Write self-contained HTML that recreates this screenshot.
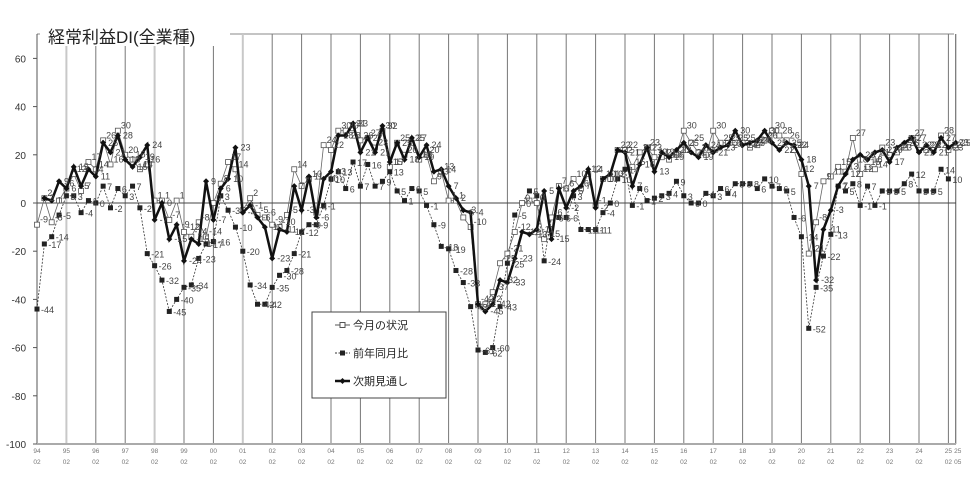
<!DOCTYPE html>
<html><head><meta charset="utf-8">
<style>
html,body{margin:0;padding:0;background:#fff;}
svg{display:block;font-family:"Liberation Sans","Noto Sans CJK JP",sans-serif;}
</style></head>
<body>
<svg id="chart" width="970" height="495" viewBox="0 0 970 495">
<rect x="0" y="0" width="970" height="495" fill="#fff"/>
<g id="grid"></g>
<g id="series"></g>
<g id="labels"></g>
<rect x="40" y="24" width="190" height="22" fill="#fff"/>
<text x="48" y="43" font-size="17" fill="#222">経常利益DI(全業種)</text>
<g>
<rect x="312" y="312" width="134" height="86" fill="#fff" stroke="#444" stroke-width="1"/>
<g>
<line x1="335" y1="325" x2="350" y2="325" stroke="#555" stroke-width="1"/>
<rect x="340" y="322.5" width="5" height="5" fill="#fff" stroke="#555" stroke-width="1"/>
<text x="353" y="329" font-size="11" fill="#222">今月の状況</text></g>
<g>
<line x1="335" y1="353" x2="350" y2="353" stroke="#333" stroke-width="1" stroke-dasharray="2,1.5"/>
<rect x="340" y="350.5" width="5" height="5" fill="#222"/>
<text x="353" y="357" font-size="11" fill="#222">前年同月比</text></g>
<g>
<line x1="335" y1="381" x2="350" y2="381" stroke="#111" stroke-width="2.5"/>
<path d="M342.5 378 L345.5 381 L342.5 384 L339.5 381Z" fill="#111"/>
<text x="353" y="385" font-size="11" fill="#222">次期見通し</text></g>
</g>
</svg>
<script>
const yearLabels=["94","95","96","97","98","99","00","01","02","03","04","05","06","07","08","09","10","11","12","13","14","15","16","17","18","19","20","21","22","23","24","25"];
const yTicks=[60,40,20,0,-20,-40,-60,-80,-100];
const seriesCurrent=[-9,2,-8,1,6,12,5,17,14,26,16,30,20,18,14,16,
1,1,-7,1,-12,-14,-8,-14,0,8,17,14,-3,2,-5,-6,
-9,-10,-5,14,7,10,-4,24,22,30,30,31,26,27,23,30,
15,25,20,25,18,20,9,13,1,1,-6,-10,-42,-42,-37,-25,
-21,-12,0,1,0,-15,-6,7,6,10,6,12,-1,10,10,22,
22,15,21,23,19,19,18,20,30,25,21,20,30,25,25,25,
25,23,24,26,30,28,26,22,12,-21,-8,9,11,15,13,27,
12,15,14,23,20,21,24,27,22,22,22,28,22,23];
const seriesYoY=[-44,-17,-14,-5,3,3,-4,1,0,7,-2,6,3,7,-2,-21,
-26,-32,-45,-40,-35,-34,-23,-17,-16,3,-3,-10,-20,-34,-42,-42,
-35,-30,-28,-21,-12,-9,-9,-1,10,13,6,17,7,16,7,9,
13,5,1,6,5,-1,-9,-18,-19,-28,-33,-43,-61,-62,-60,-43,
-25,-5,0,5,3,-24,-6,-6,-6,3,-11,-11,-11,-4,0,10,
14,-1,6,1,2,3,4,9,3,0,0,4,3,6,4,8,
8,8,6,10,7,6,5,-6,-14,-52,-35,-22,-13,7,5,8,
-1,7,-1,5,5,5,8,12,5,5,5,14,10,null];
const seriesOutlook=[null,2,1,9,6,15,7,14,11,25,21,28,18,15,19,24,
-7,0,-15,-9,-24,-15,-17,9,-7,6,10,23,-4,-1,-6,-10,
-23,-11,-12,7,-3,11,-6,10,13,28,28,33,21,27,21,32,
17,25,18,27,19,24,13,14,7,2,-3,-4,-42,-45,-42,-32,
-33,-23,-12,-13,-11,5,-15,6,-2,5,7,14,-2,10,12,22,
21,7,16,23,13,21,19,22,25,21,19,24,21,23,24,30,
24,25,26,30,25,22,25,24,18,7,-32,-11,-3,7,12,18,
20,18,21,22,17,23,25,27,21,24,21,27,23,25];

const NS="http://www.w3.org/2000/svg";
const X0=37, QW=7.35, Y0=203, UY=2.41, TOP=34, BOT=444;
function xq(i){return X0+QW*i;}
function yv(v){return Y0-v*UY;}
function mk(tag,attrs,parent){const e=document.createElementNS(NS,tag);for(const k in attrs)e.setAttribute(k,attrs[k]);parent.appendChild(e);return e;}
const grid=document.getElementById('grid');
const ser=document.getElementById('series');
const lab=document.getElementById('labels');

// frame
let fr=mk('line',{x1:X0,y1:TOP,x2:954,y2:TOP,stroke:'#888','stroke-width':1},grid);


// year gridlines + labels
yearLabels.forEach((yl,k)=>{
  const x=X0+29.4*k;
  const light=(k===1||k===4||k===7);
  const l=mk('line',{x1:x,y1:TOP,x2:x,y2:BOT,stroke:light?'#c8c8c8':'#777','stroke-width':light?2:1},grid);
  
  
  const t=mk('text',{x:x,y:453,'font-size':6.5,fill:'#777','text-anchor':'middle'},grid);
  t.textContent=yl;
  
  
  const t2=mk('text',{x:x,y:464,'font-size':6.5,fill:'#777','text-anchor':'middle'},grid);
  t2.textContent='02';
  
  
});
{const x=xq(125);
 const l=mk('line',{x1:x,y1:TOP,x2:x,y2:BOT,stroke:'#555','stroke-width':1},grid);
 
 
 const t=mk('text',{x:x+2,y:453,'font-size':6.5,fill:'#777','text-anchor':'middle'},grid);t.textContent='25';
 
 
 const t2=mk('text',{x:x+2,y:464,'font-size':6.5,fill:'#777','text-anchor':'middle'},grid);t2.textContent='05';
 
 }
// axes
let ax=mk('line',{x1:X0,y1:TOP,x2:X0,y2:BOT,stroke:'#555','stroke-width':1},grid);


let bx=mk('line',{x1:X0,y1:BOT,x2:956,y2:BOT,stroke:'#aaa','stroke-width':2},grid);


let zl=mk('line',{x1:X0,y1:Y0,x2:956,y2:Y0,stroke:'#444','stroke-width':1},grid);


yTicks.forEach(v=>{
  const y=yv(v);
  const tk=mk('line',{x1:X0-4,y1:y,x2:X0,y2:y,stroke:'#555','stroke-width':1},grid);
  
  
  const t=mk('text',{x:26,y:y+4,'font-size':10,fill:'#333','text-anchor':'end'},grid);
  t.textContent=v;
  
  
});

function drawSeries(arr,name,style,marker,labOff){
  let d='';let pen=false;
  arr.forEach((v,i)=>{ if(v===null){pen=false;return;} d+=(pen?'L':'M')+xq(i).toFixed(1)+' '+yv(v).toFixed(1)+' ';pen=true;});
  const p=mk('path',Object.assign({d:d,fill:'none'},style),ser);
  
  
  arr.forEach((v,i)=>{
    if(v===null)return;
    const x=xq(i),y=yv(v);
    let m;
    if(marker==='open') m=mk('rect',{x:x-2.5,y:y-2.5,width:5,height:5,fill:'#fff',stroke:'#555','stroke-width':0.8},ser);
    else if(marker==='fill') m=mk('rect',{x:x-2.5,y:y-2.5,width:5,height:5,fill:'#222'},ser);
    else m=mk('path',{d:`M${x} ${y-3}L${x+3} ${y}L${x} ${y+3}L${x-3} ${y}Z`,fill:'#111'},ser);
    
    
    const t=mk('text',{x:x+labOff[0],y:y+labOff[1],'font-size':9,fill:'#444'},lab);
    t.textContent=v;
    
    
  });
}
drawSeries(seriesYoY,'yoy',{stroke:'#333','stroke-width':0.8,'stroke-dasharray':'2,1.5'},'fill',[4,4]);
drawSeries(seriesCurrent,'current',{stroke:'#666','stroke-width':0.8},'open',[3,-2]);
drawSeries(seriesOutlook,'outlook',{stroke:'#111','stroke-width':2.5},'dia',[5,3]);
</script>
</body></html>
